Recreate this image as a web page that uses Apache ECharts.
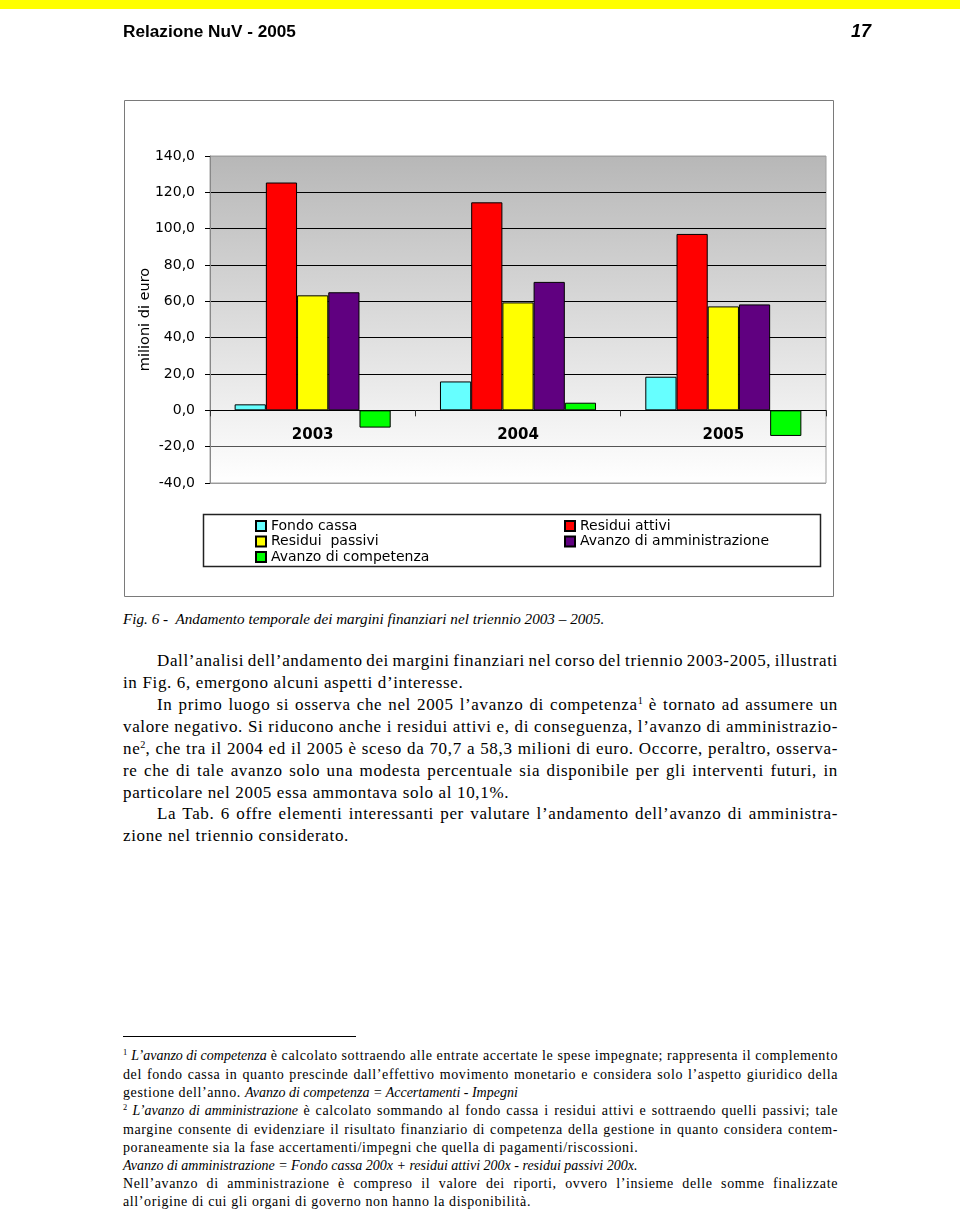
<!DOCTYPE html>
<html>
<head>
<meta charset="utf-8">
<script src="https://cdn.jsdelivr.net/npm/echarts@6/dist/echarts.min.js"></script>
<style>
  html, body { margin:0; padding:0; background:#fff; }
  body { width:960px; height:1211px; position:relative; overflow:hidden; }
  #bar { position:absolute; left:0; top:0; width:960px; height:9px; background:#ffff00; }
  #chart { position:absolute; left:0; top:0; width:960px; height:600px; }
  .hdr { position:absolute; font-family:"Liberation Sans", Arial, sans-serif; font-weight:bold; color:#000; white-space:nowrap; }
  .ln { position:absolute; white-space:nowrap; font-family:"Liberation Serif", "Times New Roman", serif; color:#000; }
  .ln i { letter-spacing:0; }
  .ln sup { font-size:60%; vertical-align:0; position:relative; top:-0.55em; line-height:0; letter-spacing:0; }
  #rule { position:absolute; left:123px; top:1036px; width:233px; height:0; border-top:1px solid #000; }
</style>
</head>
<body>
<div id="bar"></div>
<div id="chart"></div>
<div class="hdr" style="left:123px; top:21px; font-size:17.2px; line-height:20px;">Relazione NuV - 2005</div>
<div class="hdr" style="left:851px; top:21px; font-size:18px; line-height:20px; font-style:italic;">17</div>
<div id="text"></div>
<div id="rule"></div>
<script>
// ---- chart data ----
const years = ['2003', '2004', '2005'];
const seriesNames = ['Fondo cassa', 'Residui attivi', 'Residui  passivi', 'Avanzo di amministrazione', 'Avanzo di competenza'];
const fondoCassa = [3.3, 15.9, 18.5];
const residuiAttivi = [125.4, 114.5, 97.1];
const residuiPassivi = [63.3, 59.4, 57.2];
const avanzoAmministrazione = [65.0, 70.7, 58.3];
const avanzoCompetenza = [-9.5, 4.2, -14.1];
const yMin = -40, yMax = 140, yStep = 20;

const seriesValues = [fondoCassa, residuiAttivi, residuiPassivi, avanzoAmministrazione, avanzoCompetenza];
const seriesColors = ['#66ffff', '#ff0000', '#ffff00', '#600080', '#00ff00'];

const gridTop = 156, gridHeight = 327;
// move the category axis (line, ticks, labels) up to the zero level of the value axis
const zeroOffset = -gridHeight * (0 - yMin) / (yMax - yMin);

const chart = echarts.init(document.getElementById('chart'), null, { renderer: 'canvas' });
const axisFont = '"DejaVu Sans", Tahoma, Verdana, sans-serif';

chart.setOption({
  animation: false,
  graphic: [
    { type: 'rect', shape: { x: 124.5, y: 100.5, width: 709, height: 496 }, style: { fill: 'none', stroke: '#7a7a7a', lineWidth: 1 }, silent: true },
    { type: 'rect', shape: { x: 203.5, y: 514.5, width: 617, height: 52 }, style: { fill: '#fff', stroke: '#222', lineWidth: 1.5 }, silent: true, z: -1 }
  ],
  grid: {
    left: 210, top: gridTop, width: 616, height: gridHeight,
    show: true,
    borderColor: '#a0a0a0', borderWidth: 1,
    backgroundColor: new echarts.graphic.LinearGradient(0, 0, 0, 1, [
      { offset: 0, color: '#b7b7b7' },
      { offset: 0.78, color: '#f0f0f0' },
      { offset: 1, color: '#ffffff' }
    ])
  },
  legend: [
    {
      data: [seriesNames[0], seriesNames[2], seriesNames[4]],
      orient: 'vertical', left: 250, top: 514, itemWidth: 10, itemHeight: 10, itemGap: 1.5,
      selectedMode: false, icon: 'rect',
      textStyle: { fontFamily: axisFont, fontSize: 14, color: '#000', lineHeight: 14 }
    },
    {
      data: [seriesNames[1], seriesNames[3]],
      orient: 'vertical', left: 559, top: 514, itemWidth: 10, itemHeight: 10, itemGap: 1.5,
      selectedMode: false, icon: 'rect',
      textStyle: { fontFamily: axisFont, fontSize: 14, color: '#000', lineHeight: 14 }
    }
  ],
  xAxis: {
    type: 'category',
    data: years,
    position: 'bottom',
    offset: zeroOffset,
    axisLine: { onZero: false, lineStyle: { color: '#000', width: 1 } },
    axisTick: { show: true, length: 6, lineStyle: { color: '#333' } },
    axisLabel: { fontFamily: axisFont, fontSize: 15, fontWeight: 'bold', color: '#000', margin: 17 },
    splitLine: { show: false }
  },
  yAxis: {
    type: 'value',
    min: yMin, max: yMax, interval: yStep,
    name: 'milioni di euro',
    nameLocation: 'middle', nameGap: 57,
    nameMoveOverlap: false,
    nameTextStyle: { fontFamily: axisFont, fontSize: 14.5, color: '#000' },
    axisLine: { show: true, lineStyle: { color: '#888', width: 1 } },
    axisTick: { show: true, length: 5, lineStyle: { color: '#000' } },
    axisLabel: {
      fontFamily: axisFont, fontSize: 14, color: '#000', margin: 15,
      formatter: v => v.toFixed(1).replace('.', ',')
    },
    splitLine: {
      show: true,
      lineStyle: { color: ['#9a9a9a', '#555', '#000', '#000', '#000', '#000', '#000', '#000', '#000', '#a0a0a0'], width: 1 }
    }
  },
  series: seriesNames.map((name, i) => ({
    name: name,
    type: 'bar',
    data: seriesValues[i],
    barGap: '0%',
    barCategoryGap: '24%',
    itemStyle: { color: seriesColors[i], borderColor: '#000', borderWidth: 1 },
    emphasis: { disabled: true },
    silent: true
  }))
});

// ---- page text ----
const lines = [
  { h: '<i>Fig. 6 -&nbsp; Andamento temporale dei margini finanziari nel triennio 2003 – 2005.</i>', x: 123, y: 619, fs: 15.2, ls: 0, w: null },
  { h: 'Dall’analisi dell’andamento dei margini finanziari nel corso del triennio 2003-2005, illustrati', x: 157, y: 661, fs: 17, ls: 0.65, w: 681 },
  { h: 'in Fig. 6, emergono alcuni aspetti d’interesse.', x: 123, y: 683, fs: 17, ls: 0.65, w: null },
  { h: 'In primo luogo si osserva che nel 2005 l’avanzo di competenza<sup>1</sup> è tornato ad assumere un', x: 157, y: 705, fs: 17, ls: 0.65, w: 681 },
  { h: 'valore negativo. Si riducono anche i residui attivi e, di conseguenza, l’avanzo di amministrazio-', x: 123, y: 727, fs: 17, ls: 0.65, w: 715 },
  { h: 'ne<sup>2</sup>, che tra il 2004 ed il 2005 è sceso da 70,7 a 58,3 milioni di euro. Occorre, peraltro, osserva-', x: 123, y: 749, fs: 17, ls: 0.65, w: 715 },
  { h: 're che di tale avanzo solo una modesta percentuale sia disponibile per gli interventi futuri, in', x: 123, y: 771, fs: 17, ls: 0.65, w: 715 },
  { h: 'particolare nel 2005 essa ammontava solo al 10,1%.', x: 123, y: 793, fs: 17, ls: 0.65, w: null },
  { h: 'La Tab. 6 offre elementi interessanti per valutare l’andamento dell’avanzo di amministra-', x: 157, y: 814, fs: 17, ls: 0.65, w: 681 },
  { h: 'zione nel triennio considerato.', x: 123, y: 836, fs: 17, ls: 0.65, w: null },

  { h: '<sup>1</sup> <i>L’avanzo di competenza</i> è calcolato sottraendo alle entrate accertate le spese impegnate; rappresenta il complemento', x: 123, y: 1056, fs: 14, ls: 0.6, w: 715 },
  { h: 'del fondo cassa in quanto prescinde dall’effettivo movimento monetario e considera solo l’aspetto giuridico della', x: 123, y: 1075, fs: 14, ls: 0.6, w: 715 },
  { h: 'gestione dell’anno. <i>Avanzo di competenza = Accertamenti - Impegni</i>', x: 123, y: 1093, fs: 14, ls: 0.6, w: null },
  { h: '<sup>2</sup> <i>L’avanzo di amministrazione</i> è calcolato sommando al fondo cassa i residui attivi e sottraendo quelli passivi; tale', x: 123, y: 1111, fs: 14, ls: 0.6, w: 715 },
  { h: 'margine consente di evidenziare il risultato finanziario di competenza della gestione in quanto considera contem-', x: 123, y: 1130, fs: 14, ls: 0.6, w: 715 },
  { h: 'poraneamente sia la fase accertamenti/impegni che quella di pagamenti/riscossioni.', x: 123, y: 1148, fs: 14, ls: 0.6, w: null },
  { h: '<i>Avanzo di amministrazione = Fondo cassa 200x + residui attivi 200x - residui passivi 200x.</i>', x: 123, y: 1166, fs: 14, ls: 0, w: null },
  { h: 'Nell’avanzo di amministrazione è compreso il valore dei riporti, ovvero l’insieme delle somme finalizzate', x: 123, y: 1184, fs: 14, ls: 0.6, w: 715 },
  { h: 'all’origine di cui gli organi di governo non hanno la disponibilità.', x: 123, y: 1202, fs: 14, ls: 0.6, w: null }
];

const host = document.getElementById('text');
lines.forEach(l => {
  const d = document.createElement('div');
  d.className = 'ln';
  const lh = Math.round(l.fs * 1.3);
  d.style.left = l.x + 'px';
  d.style.top = (l.y - lh / 2) + 'px';
  d.style.fontSize = l.fs + 'px';
  d.style.lineHeight = lh + 'px';
  d.style.letterSpacing = l.ls + 'px';
  d.innerHTML = l.h;
  host.appendChild(d);
  if (l.w) {
    const nat = d.getBoundingClientRect().width;
    const spaces = (d.textContent.match(/ /g) || []).length;
    if (spaces > 0) d.style.wordSpacing = ((l.w - nat) / spaces) + 'px';
  }
});
</script>
</body>
</html>
